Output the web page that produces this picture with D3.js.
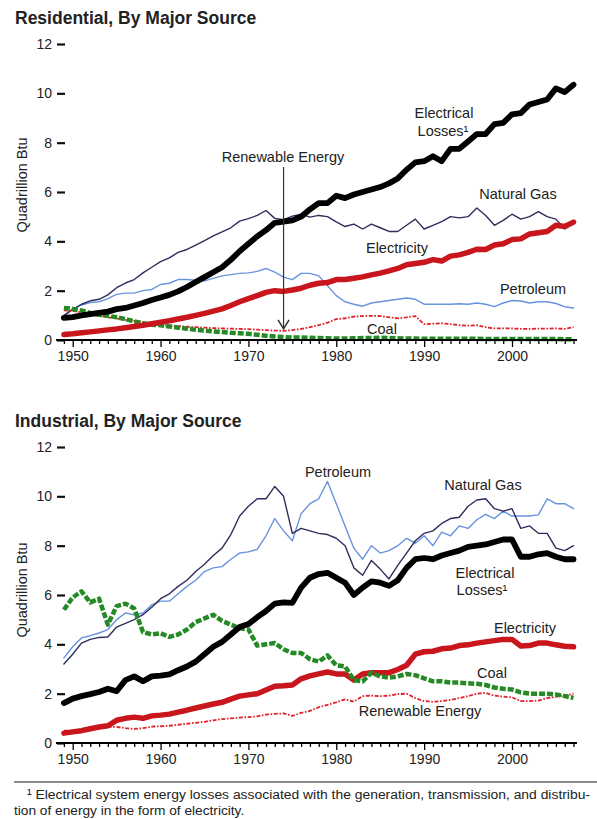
<!DOCTYPE html>
<html><head><meta charset="utf-8">
<script src="https://cdn.jsdelivr.net/npm/d3@7"></script>
<style>
body{margin:0;background:#fff;}
svg text{font-family:"Liberation Sans", Arial, Helvetica, sans-serif;fill:#222;}
</style></head><body>
<svg id="c" width="597" height="819"></svg>
<script>
// ---------- DATA ----------
const years = d3.range(1949, 2008);
const yTicks = [0, 2, 4, 6, 8, 10, 12];
const xLabelYears = [1950, 1960, 1970, 1980, 1990, 2000];

// Residential (quadrillion Btu)
const resNaturalGas = [0.99,1.24,1.45,1.59,1.65,1.83,2.12,2.31,2.45,2.72,
  2.95,3.18,3.33,3.55,3.67,3.85,4.03,4.22,4.38,4.55,
  4.82,4.92,5.05,5.25,4.93,4.88,5.02,5.10,4.98,5.05,
  5.00,4.79,4.60,4.70,4.50,4.70,4.55,4.40,4.40,4.65,
  4.90,4.50,4.65,4.80,5.00,4.95,5.00,5.35,5.05,4.65,
  4.85,5.10,4.90,5.00,5.20,5.00,4.90,4.50,4.75];
const resPetroleum = [1.00,1.25,1.42,1.52,1.55,1.68,1.85,1.90,1.90,2.00,
  2.05,2.25,2.30,2.45,2.45,2.42,2.40,2.50,2.60,2.65,
  2.70,2.72,2.78,2.90,2.75,2.55,2.45,2.70,2.70,2.60,
  2.20,1.80,1.55,1.45,1.37,1.50,1.55,1.60,1.65,1.70,
  1.65,1.45,1.45,1.45,1.45,1.47,1.45,1.50,1.45,1.35,
  1.50,1.60,1.58,1.50,1.55,1.55,1.48,1.35,1.30];
const resLosses = [0.90,0.93,1.00,1.05,1.10,1.15,1.25,1.30,1.40,1.50,
  1.62,1.72,1.83,1.97,2.15,2.35,2.55,2.75,2.95,3.25,
  3.60,3.90,4.20,4.45,4.75,4.80,4.85,5.00,5.30,5.55,
  5.55,5.85,5.75,5.90,6.00,6.10,6.20,6.35,6.55,6.90,
  7.20,7.25,7.45,7.25,7.75,7.75,8.05,8.35,8.35,8.75,
  8.80,9.15,9.20,9.55,9.65,9.75,10.20,10.05,10.35];
const resElectricity = [0.22,0.25,0.29,0.33,0.37,0.41,0.45,0.50,0.55,0.60,
  0.66,0.72,0.78,0.85,0.92,1.00,1.08,1.17,1.26,1.40,
  1.55,1.68,1.80,1.93,2.00,1.97,2.03,2.10,2.22,2.30,
  2.33,2.45,2.45,2.50,2.56,2.64,2.71,2.80,2.90,3.05,
  3.10,3.15,3.26,3.20,3.40,3.45,3.55,3.68,3.67,3.85,
  3.90,4.07,4.10,4.30,4.35,4.40,4.65,4.60,4.78];
const resCoal = [1.30,1.26,1.20,1.10,1.02,0.98,0.92,0.85,0.75,0.68,
  0.62,0.60,0.55,0.50,0.46,0.41,0.38,0.35,0.32,0.29,
  0.27,0.25,0.21,0.17,0.14,0.12,0.10,0.10,0.09,0.08,
  0.07,0.06,0.06,0.07,0.08,0.08,0.09,0.08,0.07,0.06,
  0.06,0.05,0.05,0.05,0.05,0.05,0.05,0.05,0.04,0.04,
  0.04,0.04,0.04,0.04,0.04,0.04,0.04,0.03,0.03];
const resRenewable = [1.20,1.18,1.12,1.05,0.98,0.92,0.88,0.82,0.77,0.72,
  0.66,0.60,0.58,0.56,0.54,0.52,0.50,0.48,0.47,0.46,
  0.45,0.44,0.42,0.40,0.38,0.37,0.40,0.45,0.52,0.60,
  0.70,0.85,0.88,0.95,0.97,0.98,0.97,0.92,0.88,0.92,
  0.97,0.64,0.66,0.68,0.64,0.60,0.58,0.60,0.52,0.47,
  0.47,0.47,0.45,0.45,0.46,0.46,0.47,0.45,0.52];

// Industrial (quadrillion Btu)
const indNaturalGas = [3.20,3.60,4.05,4.20,4.28,4.30,4.70,4.85,5.00,5.20,
  5.50,5.85,6.05,6.35,6.60,6.95,7.25,7.60,7.90,8.45,
  9.20,9.60,9.90,9.90,10.40,10.00,8.50,8.70,8.60,8.50,
  8.45,8.30,8.00,7.10,6.80,7.40,7.05,6.65,7.20,7.70,
  8.20,8.50,8.60,8.90,9.10,9.15,9.60,9.85,9.90,9.50,
  9.40,9.50,8.70,8.80,8.50,8.50,7.90,7.80,8.00];
const indPetroleum = [3.45,3.90,4.26,4.35,4.46,4.60,5.00,5.27,5.20,5.27,
  5.60,5.75,5.75,6.05,6.35,6.60,6.95,7.10,7.15,7.45,
  7.70,7.75,7.85,8.40,9.10,8.60,8.20,9.30,9.70,9.90,
  10.60,9.70,8.80,7.90,7.45,8.00,7.70,7.80,8.00,8.30,
  8.10,8.40,8.00,8.55,8.40,8.80,8.70,9.05,9.27,9.10,
  9.40,9.20,9.20,9.20,9.25,9.90,9.70,9.70,9.50];
const indLosses = [1.62,1.80,1.90,1.98,2.07,2.20,2.10,2.55,2.70,2.50,
  2.70,2.73,2.78,2.95,3.10,3.30,3.60,3.90,4.10,4.40,
  4.70,4.82,5.10,5.35,5.65,5.70,5.68,6.30,6.70,6.85,
  6.90,6.70,6.50,6.00,6.30,6.55,6.50,6.37,6.60,7.10,
  7.45,7.50,7.45,7.60,7.70,7.80,7.95,8.00,8.05,8.15,
  8.25,8.25,7.55,7.55,7.65,7.70,7.55,7.45,7.45];
const indElectricity = [0.40,0.45,0.50,0.58,0.65,0.70,0.92,1.00,1.05,1.00,
  1.10,1.13,1.17,1.25,1.33,1.42,1.50,1.58,1.65,1.78,
  1.90,1.95,2.00,2.15,2.30,2.32,2.35,2.60,2.72,2.80,
  2.88,2.80,2.80,2.55,2.80,2.85,2.85,2.85,2.98,3.15,
  3.60,3.70,3.72,3.82,3.85,3.95,3.98,4.05,4.10,4.15,
  4.20,4.20,3.93,3.95,4.05,4.05,3.98,3.92,3.90];
const indCoal = [5.40,5.90,6.15,5.70,5.85,4.80,5.55,5.65,5.45,4.50,
  4.40,4.45,4.30,4.40,4.60,4.90,5.05,5.20,4.95,4.80,
  4.65,4.60,3.95,4.00,4.05,3.80,3.65,3.65,3.40,3.30,
  3.55,3.15,3.10,2.55,2.50,2.85,2.70,2.65,2.70,2.80,
  2.75,2.62,2.50,2.50,2.45,2.45,2.42,2.40,2.35,2.25,
  2.20,2.17,2.05,2.00,2.00,2.00,1.97,1.90,1.83];
const indRenewable = [0.50,0.50,0.55,0.55,0.60,0.65,0.65,0.60,0.57,0.60,
  0.66,0.68,0.70,0.74,0.78,0.82,0.86,0.92,0.97,1.00,
  1.03,1.05,1.08,1.15,1.18,1.20,1.10,1.22,1.30,1.45,
  1.55,1.65,1.77,1.68,1.90,1.92,1.90,1.92,1.98,2.00,
  1.82,1.70,1.67,1.70,1.75,1.82,1.90,2.00,2.03,1.92,
  1.88,1.85,1.70,1.70,1.72,1.82,1.88,1.92,2.00];

// ---------- STYLES ----------
const styles = {
  naturalGas:  {color:"#2e2d5c", width:1.4, dash:null},
  petroleum:   {color:"#6893de", width:1.4, dash:null},
  renewable:   {color:"#e2202a", width:1.8, dash:"4,1.6,1.6,1.6"},
  electricity: {color:"#c8161c", width:5.5, dash:null},
  coal:        {color:"#258a25", width:4.5, dash:"6,2"},
  losses:      {color:"#000000", width:5.8, dash:null}
};

const svg = d3.select("#c");
const FONT = '"Liberation Sans", Arial, Helvetica, sans-serif';
const x = d3.scaleLinear().domain([1950, 2000]).range([72.7, 512]);

function panel(opts){
  const g = svg.append("g");
  const y = d3.scaleLinear().domain([0, 12]).range([opts.zeroY, opts.zeroY - 296]);

  g.append("text").attr("x", 15).attr("y", opts.titleY)
    .attr("font-size", 17.5).attr("font-weight", "bold").attr("fill", "#111")
    .text(opts.title);

  g.append("text")
    .attr("transform", `translate(27,${opts.yTitleY}) rotate(-90)`)
    .attr("text-anchor", "middle").attr("font-size", 14.5)
    .text("Quadrillion Btu");

  const ya = g.append("g").attr("transform", "translate(65,0)")
    .call(d3.axisLeft(y).tickValues(yTicks).tickSize(8).tickPadding(5));
  ya.select(".domain").remove();
  ya.attr("font-family", FONT).attr("font-size", 14);
  ya.selectAll(".tick line").attr("stroke", "#111").attr("stroke-width", 2.2);
  ya.selectAll(".tick text").attr("fill", "#222");

  const line = d3.line().x((d, i) => x(years[i])).y(d => y(d)).curve(d3.curveLinear);
  opts.series.forEach(s => {
    const st = styles[s.key];
    g.append("path").datum(s.values)
      .attr("d", line)
      .attr("fill", "none")
      .attr("stroke", st.color)
      .attr("stroke-width", st.width)
      .attr("stroke-linejoin", "round")
      .attr("stroke-linecap", st.dash ? "butt" : "round")
      .attr("stroke-dasharray", st.dash);
  });

  g.append("line").attr("x1", 56).attr("x2", 577)
    .attr("y1", opts.zeroY).attr("y2", opts.zeroY)
    .attr("stroke", "#000").attr("stroke-width", 2);
  const xa = g.append("g").attr("transform", `translate(0,${opts.zeroY})`)
    .call(d3.axisBottom(x).tickValues(years).tickSize(4).tickSizeOuter(0)
      .tickFormat(d => xLabelYears.includes(d) ? d : ""));
  xa.select(".domain").remove();
  xa.attr("font-family", FONT).attr("font-size", 14);
  xa.selectAll(".tick line").attr("stroke", "#000").attr("stroke-width", 1.3)
    .attr("y2", d => d % 10 === 0 ? 7 : 4);
  xa.selectAll(".tick text").attr("y", 11).attr("fill", "#222");

  opts.labels.forEach(l => {
    g.append("text").attr("x", l.x).attr("y", l.y)
      .attr("text-anchor", "middle").attr("font-size", 14.5)
      .text(l.text);
  });
  return {g, y};
}

// ---------- RESIDENTIAL ----------
const resPanel = panel({
  title: "Residential, By Major Source", titleY: 24,
  zeroY: 340, yTitleY: 185,
  series: [
    {key:"petroleum", values: resPetroleum},
    {key:"naturalGas", values: resNaturalGas},
    {key:"renewable", values: resRenewable},
    {key:"coal", values: resCoal},
    {key:"electricity", values: resElectricity},
    {key:"losses", values: resLosses}
  ],
  labels: [
    {text:"Electrical", x:444, y:118},
    {text:"Losses\u00B9", x:443, y:136},
    {text:"Renewable Energy", x:283, y:162},
    {text:"Natural Gas", x:518, y:199},
    {text:"Electricity", x:397, y:253},
    {text:"Petroleum", x:533, y:294},
    {text:"Coal", x:382, y:334}
  ]
});
{
  const ax = x(1974);
  const tipY = resPanel.y(resRenewable[1974 - 1949]) - 2;
  resPanel.g.append("line").attr("x1", ax).attr("x2", ax).attr("y1", 167).attr("y2", tipY)
    .attr("stroke", "#333").attr("stroke-width", 1.2);
  resPanel.g.append("path")
    .attr("d", `M${ax-5.5},${tipY-9} L${ax},${tipY} L${ax+5.5},${tipY-9}`)
    .attr("fill", "none").attr("stroke", "#333").attr("stroke-width", 1.5);
}

// ---------- INDUSTRIAL ----------
panel({
  title: "Industrial, By Major Source", titleY: 427,
  zeroY: 743, yTitleY: 590,
  series: [
    {key:"petroleum", values: indPetroleum},
    {key:"naturalGas", values: indNaturalGas},
    {key:"renewable", values: indRenewable},
    {key:"electricity", values: indElectricity},
    {key:"coal", values: indCoal},
    {key:"losses", values: indLosses}
  ],
  labels: [
    {text:"Petroleum", x:338, y:477},
    {text:"Natural Gas", x:483, y:490},
    {text:"Electrical", x:485, y:578},
    {text:"Losses\u00B9", x:482, y:595},
    {text:"Electricity", x:525, y:633},
    {text:"Coal", x:492, y:678},
    {text:"Renewable Energy", x:420, y:716}
  ]
});

// ---------- FOOTNOTE ----------
svg.append("line").attr("x1", 14).attr("x2", 597).attr("y1", 782).attr("y2", 782)
  .attr("stroke", "#8a8a8a").attr("stroke-width", 2);
svg.append("text").attr("x", 27).attr("y", 799).attr("font-size", 13.7)
  .attr("textLength", 563).attr("lengthAdjust", "spacingAndGlyphs")
  .text("\u00B9 Electrical system energy losses associated with the generation, transmission, and distribu-");
svg.append("text").attr("x", 14).attr("y", 815).attr("font-size", 13.7)
  .text("tion of energy in the form of electricity.");
</script>
</body></html>
